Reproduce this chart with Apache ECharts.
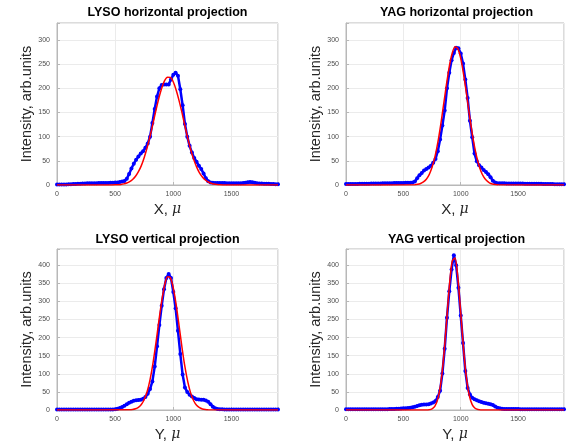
<!DOCTYPE html>
<html><head><meta charset="utf-8">
<script src="https://cdn.jsdelivr.net/npm/echarts@6/dist/echarts.min.js"></script>
<style>html,body{margin:0;padding:0;background:#fff}#c{width:567px;height:443px}</style>
</head><body><div id="c"></div>
<script>
// ---- data ----
const titles = ['LYSO horizontal projection','YAG horizontal projection','LYSO vertical projection','YAG vertical projection'];
const xNames = ['X','X','Y','Y'];
const yName = 'Intensity, arb.units';
const xTicks = [0, 500, 1000, 1500];
const yTicksTop = [0, 50, 100, 150, 200, 250, 300];
const yTicksBottom = [0, 50, 100, 150, 200, 250, 300, 350, 400];

const blueX = [0,20,40,60,80,100,120,140,160,180,
  200,220,240,260,280,300,320,340,360,380,
  400,420,440,460,480,500,520,540,560,580,
  600,620,640,660,680,700,720,740,760,780,
  800,820,840,860,880,900,920,940,960,980,
  1000,1020,1040,1060,1080,1100,1120,1140,1160,1180,
  1200,1220,1240,1260,1280,1300,1320,1340,1360,1380,
  1400,1420,1440,1460,1480,1500,1520,1540,1560,1580,
  1600,1620,1640,1660,1680,1700,1720,1740,1760,1780,
  1800,1820,1840,1860,1880,1900];

const lysoH = [1,1,1,1,1.2,1.5,1.7,2,2.2,2.5,
  2.7,3,3.2,3.4,3.5,3.6,3.7,3.8,3.9,4,
  4,4.1,4.2,4.4,4.6,5,5.4,6,7,8.5,
  13,23,34,44,52,59,65,70,77,86,
  100,128,157,183,200,207,208,208,208,218,
  228,232,226,198,165,126,100,81,67,56,
  48,40,33,24,14,8,5,4.5,4.2,4,
  4,4,3.9,3.8,3.8,3.7,3.6,3.5,3.5,3.6,
  4,4.8,5.5,6,5.5,4.5,3.8,3.3,3,2.8,
  2.6,2.4,2.2,2,1.8,1.6];

const yagH = [2,2,2,2.1,2.2,2.3,2.4,2.5,2.6,2.7,
  2.8,2.9,3,3.1,3.2,3.3,3.4,3.5,3.6,3.7,
  3.8,3.9,4,4.1,4.2,4.3,4.4,4.5,4.7,5,
  7,14,20,25,30,33,36,40,46,54,
  70,94,123,154,200,232,258,273,284,283,
  272,251,218,180,133,99,65,49,41,36,
  31,27,22,16,9,5,3.8,3.6,3.5,3.4,
  3.3,3.2,3.2,3.1,3,3,2.9,2.9,2.8,2.8,
  2.7,2.7,2.6,2.6,2.5,2.4,2.3,2.2,2.1,2,
  1.9,1.8,1.7,1.6,1.5,1.5];

const lysoV = [1.2,1.2,1.2,1.2,1.2,1.2,1.2,1.2,1.2,1.2,
  1.2,1.2,1.2,1.2,1.2,1.2,1.2,1.2,1.2,1.2,
  1.2,1.2,1.2,1.4,1.7,2,3.5,5.5,8,12,
  16,20,23,25.5,27,27.5,28.5,31,36,45,
  58,79,120,176,235,288,334,365,376,365,
  326,281,219,155,98,62,50,42,37,33,
  30,29,28.5,28,26,23,16,9,5,3,
  2,1.8,1.6,1.5,1.5,1.5,1.5,1.5,1.5,1.5,
  1.5,1.5,1.5,1.5,1.5,1.5,1.5,1.5,1.5,1.5,
  1.5,1.5,1.5,1.5,1.5,1.5];

const yagV = [2,2,2,2,2,2,2,2,2,2,
  2,2,2,2,2.1,2.2,2.2,2.3,2.4,2.6,
  2.8,3,3.2,3.5,4,4.5,5,5.6,6.5,7.5,
  9,11,13,14.3,15,15.5,16,18,21,25,
  36,53,101,169,255,328,388,428,400,338,
  261,185,108,61,43,34,30,27,24,22,
  20,18.5,17.5,16,14,10,6.5,4.5,3.5,3,
  2.8,2.7,2.6,2.5,2.5,2.5,2.4,2.4,2.4,2.3,
  2.3,2.3,2.2,2.2,2.2,2.1,2.1,2.1,2,2,
  2,2,2,2,2,2];

const fitX_lysoH = [0,475,500,525,550,575,600,625,650,675,700,725,750,775,800,825,850,875,900,925,950,975,1000,1025,1050,1075,1100,1125,1150,1175,1200,1225,1250,1275,1300,1325,1350,1375,1400,1425,1900];
const fit_lysoH = [0,0.15,0.3,0.6,1.2,2.3,4,6.9,11.4,18,27.5,40,57,77.5,101,127,154,179,200,216,223,222.5,213,196,174,149,122,96,73,53,37.5,25,16.5,10.3,6.2,3.6,2,1.1,0.5,0.25,0];

const fitX_yagH = [0,600,625,650,675,700,725,750,775,800,825,850,875,900,925,950,975,1000,1025,1050,1075,1100,1125,1150,1175,1200,1225,1250,1275,1300,1325,1900];
const fit_yagH = [0,0.6,1.4,3.1,6.3,12,21.5,36.5,58,87.5,124,165,207,245,272,286,281.6,262,229,189,146,107,73.7,48,29,16.7,9.1,4.6,2.2,1.0,0.4,0];

const fitX_lysoV = [0,625,650,675,700,725,750,775,800,825,850,875,900,925,950,975,1000,1025,1050,1075,1100,1125,1150,1175,1200,1225,1250,1275,1300,1900];
const fit_lysoV = [0,0.56,1.4,3.4,7.4,15.2,29,51,84,129,184,244,300,345,368,365,337,290,232,172,119,77,46,25.6,13,6.4,2.9,1.2,0.5,0];

const fitX_yagV = [0,700,725,750,775,800,825,850,875,900,925,950,975,1000,1025,1050,1075,1100,1125,1150,1175,1900];
const fit_yagV = [0,0.2,0.9,3.4,11,30,71,142,238,340,411,420,365,268,167,88,39,15,4.8,1.3,0.3,0];

const yMax = [335, 335, 445, 445];
const xMax = 1900;

// ---- build ----
const pairs = (xs, ys) => xs.map((x, i) => [x, ys[i]]);
const blueSets = [lysoH, yagH, lysoV, yagV];
const fitSets = [[fitX_lysoH, fit_lysoH],[fitX_yagH, fit_yagH],[fitX_lysoV, fit_lysoV],[fitX_yagV, fit_yagV]];
const gridPos = [
  {left:57, top:23, width:221, height:162},
  {left:346, top:23, width:221, height:162},
  {left:57, top:249, width:221, height:162},
  {left:346, top:249, width:221, height:162}
];
const FONT = 'Liberation Sans, Arial, Helvetica, sans-serif';
const tickColor = '#4d4d4d';
const boxColor = '#b8b8b8';

const grids = [], xAxes = [], yAxes = [], series = [], graphics = [];
for (let k = 0; k < 4; k++) {
  const g = gridPos[k];
  grids.push(Object.assign({show:true, borderColor:boxColor, borderWidth:1, backgroundColor:'#fff', containLabel:false}, g));
  const yt = k < 2 ? yTicksTop : yTicksBottom;
  xAxes.push({
    type:'value', gridIndex:k, min:0, max:xMax, interval:500,
    name:'{n|' + xNames[k] + ', }{m|μ}', nameLocation:'middle', nameGap:17,
    nameTextStyle:{rich:{n:{fontFamily:FONT, fontSize:15, color:'#262626'}, m:{fontFamily:'DejaVu Serif, serif', fontStyle:'italic', fontSize:14, color:'#262626'}}},
    axisLine:{show:true, lineStyle:{color:boxColor, width:1}},
    axisTick:{show:true, inside:true, length:3, lineStyle:{color:boxColor}},
    axisLabel:{fontFamily:FONT, fontSize:7, color:tickColor, margin:6,
      formatter: v => xTicks.indexOf(v) >= 0 ? String(v) : ''},
    splitLine:{show:true, lineStyle:{color:'#ebebeb', width:1}}
  });
  yAxes.push({
    type:'value', gridIndex:k, min:0, max:yMax[k], interval:50,
    name:yName, nameLocation:'middle', nameGap:20, nameRotate:90,
    nameTextStyle:{fontFamily:FONT, fontSize:14.5, color:'#262626'},
    axisLine:{show:true, lineStyle:{color:boxColor, width:1}},
    axisTick:{show:true, inside:true, length:3, lineStyle:{color:boxColor}},
    axisLabel:{fontFamily:FONT, fontSize:7, color:tickColor, margin:7,
      formatter: v => yt.indexOf(v) >= 0 ? String(v) : ''},
    splitLine:{show:true, lineStyle:{color:'#ebebeb', width:1}}
  });
  series.push({
    type:'line', xAxisIndex:k, yAxisIndex:k, data:pairs(blueX, blueSets[k]),
    symbol:'circle', symbolSize:4, showSymbol:true, animation:false,
    lineStyle:{color:'#0000ff', width:2.5}, itemStyle:{color:'#0000ff'}, z:2, clip:true
  });
  series.push({
    type:'line', xAxisIndex:k, yAxisIndex:k, data:pairs(fitSets[k][0], fitSets[k][1]),
    symbol:'none', smooth:0.25, animation:false,
    lineStyle:{color:'#ff0000', width:1.5}, z:3, clip:true
  });
  graphics.push({
    type:'text', x:g.left + g.width/2, y:(k < 2 ? 13 : 240),
    style:{text:titles[k], font:'bold 12.5px ' + FONT, fill:'#000', textAlign:'center', textVerticalAlign:'middle'}
  });
}

const chart = echarts.init(document.getElementById('c'), null, {renderer:'canvas'});
chart.setOption({
  animation:false,
  backgroundColor:'#fff',
  grid:grids, xAxis:xAxes, yAxis:yAxes, series:series, graphic:graphics
});
</script>
</body></html>
